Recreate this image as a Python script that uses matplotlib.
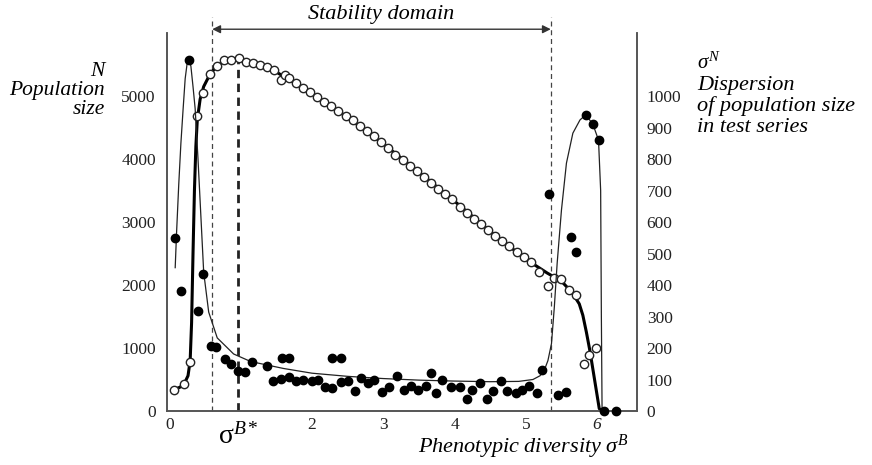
import numpy as np
import matplotlib
matplotlib.use("Agg")
import matplotlib.pyplot as plt

plt.rcParams['font.family'] = ['Liberation Serif', 'DejaVu Serif']
plt.rcParams['mathtext.fontset'] = 'custom'
plt.rcParams['mathtext.rm'] = 'Liberation Serif'
plt.rcParams['mathtext.it'] = 'Liberation Serif:italic'

# population size N (open circles, left axis)
sig_open = [0.07, 0.21, 0.29, 0.39, 0.47, 0.57, 0.67, 0.77, 0.87, 0.97,
            1.07, 1.17, 1.27, 1.37, 1.47, 1.57, 1.62, 1.67, 1.77, 1.87,
            1.97, 2.07, 2.17, 2.27, 2.37, 2.47, 2.57, 2.67, 2.77, 2.87,
            2.97, 3.07, 3.17, 3.27, 3.37, 3.47, 3.57, 3.67, 3.77, 3.87,
            3.97, 4.07, 4.17, 4.27, 4.37, 4.47, 4.57, 4.67, 4.77, 4.87,
            4.97, 5.07, 5.19, 5.31, 5.40, 5.50, 5.60, 5.71, 5.81, 5.89, 5.99]
n_open = [340, 430, 780, 4680, 5050, 5350, 5480, 5570, 5575, 5600,
          5545, 5525, 5500, 5465, 5410, 5250, 5330, 5290, 5200, 5130,
          5060, 4990, 4900, 4840, 4760, 4680, 4620, 4530, 4440, 4360,
          4270, 4180, 4060, 3990, 3890, 3810, 3710, 3620, 3530, 3450,
          3370, 3240, 3150, 3050, 2970, 2870, 2770, 2700, 2620, 2530,
          2450, 2370, 2200, 1980, 2110, 2090, 1920, 1840, 750, 895, 1000]

# trend of N (thick line)
sig_trend = [0.07, 0.15, 0.21, 0.26, 0.29, 0.31, 0.33, 0.35, 0.37, 0.39,
             0.43, 0.48, 0.57, 0.67, 0.77, 0.87, 0.97, 1.2, 1.5, 2.0,
             2.5, 3.0, 3.5, 4.0, 4.5, 5.0, 5.3, 5.5, 5.65, 5.75,
             5.8, 5.85, 5.9, 5.95, 6.0, 6.03, 6.06]
n_trend = [340, 380, 440, 560, 800, 1400, 2500, 3500, 4200, 4620,
           4950, 5150, 5350, 5480, 5550, 5580, 5580, 5520, 5380, 5040,
           4660, 4240, 3790, 3330, 2850, 2410, 2190, 2060, 1880, 1700,
           1520, 1250, 950, 600, 250, 40, 0]

# dispersion sigma^N (filled dots, right axis)
sig_disp = [0.08, 0.16, 0.27, 0.40, 0.47, 0.58, 0.65, 0.78, 0.86, 0.96,
            1.06, 1.16, 1.37, 1.45, 1.56, 1.58, 1.68, 1.68, 1.78, 1.87,
            2.00, 2.08, 2.18, 2.28, 2.28, 2.41, 2.41, 2.51, 2.60, 2.69,
            2.79, 2.87, 2.98, 3.08, 3.19, 3.29, 3.39, 3.49, 3.60, 3.67,
            3.74, 3.82, 3.95, 4.08, 4.17, 4.24, 4.36, 4.46, 4.54, 4.65,
            4.74, 4.86, 4.95, 5.04, 5.16, 5.23, 5.33, 5.45, 5.56, 5.64,
            5.71, 5.84, 5.94, 6.02, 6.09, 6.26]
disp = [549, 381, 1114, 317, 435, 206, 203, 165, 149, 127,
        124, 156, 143, 95, 102, 168, 168, 108, 95, 98,
        95, 98, 76, 168, 73, 168, 92, 95, 63, 105,
        89, 98, 60, 76, 111, 67, 79, 67, 79, 121,
        57, 98, 76, 76, 38, 67, 89, 38, 63, 95,
        63, 57, 67, 79, 57, 130, 689, 51, 60, 552,
        505, 940, 911, 860, 0, 0]

# trend of sigma^N (thin line)
sig_dline = [0.08, 0.10, 0.13, 0.16, 0.19, 0.22, 0.25, 0.27, 0.30, 0.33,
             0.36, 0.40, 0.44, 0.48, 0.55, 0.67, 0.90, 1.14, 1.6, 2.0,
             2.5, 3.0, 3.5, 4.0, 4.5, 4.9, 5.1, 5.2, 5.26, 5.31,
             5.36, 5.40, 5.44, 5.50, 5.57, 5.66, 5.76, 5.84, 5.94, 6.02,
             6.05, 6.06, 6.07]
dline = [455, 570, 720, 850, 955, 1055, 1108, 1120, 1095, 1030,
         960, 800, 620, 440, 314, 232, 181, 157, 135, 120,
         110, 103, 98, 95, 93, 94, 100, 112, 130, 160,
         214, 330, 470, 638, 787, 882, 924, 940, 911, 860,
         700, 300, 0]

sig_left, sig_star, sig_right = 0.60, 0.96, 5.35
n_star = 5570

xtick_vals = [0, 2, 3, 4, 5, 6]
ytick_left = [0, 1000, 2000, 3000, 4000, 5000]
ytick_right = list(range(0, 1001, 100))

W, H = 872, 465
fig = plt.figure(figsize=(W / 100, H / 100), dpi=100)
ax = fig.add_axes([167 / W, 1 - 411 / H, (637 - 167) / W, (411 - 33) / H])
ax2 = ax.twinx()

gray = '#555555'
for a in (ax, ax2):
    a.spines['top'].set_visible(False)
    for s in ('left', 'right', 'bottom'):
        a.spines[s].set_color(gray)
        a.spines[s].set_linewidth(1.2)

ax.set_xlim(-0.035, 6.56)
ax.set_ylim(0, 6000)
ax2.set_ylim(0, 1200)

ax.set_xticks(xtick_vals)
ax.set_xticklabels([str(v) for v in xtick_vals])
ax.get_xticklabels()[-1].set_style('italic')
ax.set_yticks(ytick_left)
ax2.set_yticks(ytick_right)
ax.tick_params(axis='both', length=0, labelsize=12.5, colors='#222222', pad=8)
ax.tick_params(axis='x', pad=4)
ax2.tick_params(axis='y', length=0, labelsize=12.5, colors='#222222', pad=7)

# vertical dashed lines and the sigma^B* line
for xv in (sig_left, sig_right):
    ax.plot([xv, xv], [0, 6250], color='#444444', lw=0.9,
            dashes=(4, 3), clip_on=False, zorder=1)
ax.plot([sig_star, sig_star], [0, n_star], color='#222222', lw=2.0,
        dashes=(3, 2), zorder=1)

# curves
ax2.plot(sig_dline, dline, color='#222222', lw=0.9, zorder=2)
ax.plot(sig_trend, n_trend, color='black', lw=2.2, zorder=3)
ax.plot(sig_open, n_open, 'o', ms=6, mfc='white', mec='#222222', mew=1.0,
        ls='none', zorder=4)
ax2.plot(sig_disp, disp, 'o', ms=6, color='black', ls='none', zorder=4,
         clip_on=False)

# stability domain arrow
ax.annotate('', xy=(sig_left, 6060), xytext=(sig_right, 6060),
            arrowprops=dict(arrowstyle='<|-|>', color='#333333', lw=1.0,
                            mutation_scale=12, shrinkA=0, shrinkB=0),
            annotation_clip=False)
fig.text(381 / W, 1 - 14 / H, 'Stability domain', style='italic',
         fontsize=16, ha='center', va='center')

# axis labels
fig.text(105 / W, 1 - 72 / H, 'N', style='italic', fontsize=15.5,
         ha='right', va='center')
fig.text(105 / W, 1 - 91 / H, 'Population', style='italic', fontsize=15.5,
         ha='right', va='center')
fig.text(105 / W, 1 - 110 / H, 'size', style='italic', fontsize=15.5,
         ha='right', va='center')

fig.text(697 / W, 1 - 63 / H, r'$\sigma^{N}$', fontsize=15,
         ha='left', va='center')
fig.text(697 / W, 1 - 85 / H, 'Dispersion', style='italic', fontsize=16,
         ha='left', va='center')
fig.text(697 / W, 1 - 106 / H, 'of population size', style='italic',
         fontsize=16, ha='left', va='center')
fig.text(697 / W, 1 - 128 / H, 'in test series', style='italic',
         fontsize=16, ha='left', va='center')

fig.text(629 / W, 1 - 447 / H, r'Phenotypic diversity $\sigma^{B}$',
         style='italic', fontsize=16, ha='right', va='center')
fig.text(238 / W, 1 - 436 / H, r'$\mathrm{\sigma}^{B*}$', fontsize=20,
         ha='center', va='center')

fig.savefig('out.png', dpi=100)
